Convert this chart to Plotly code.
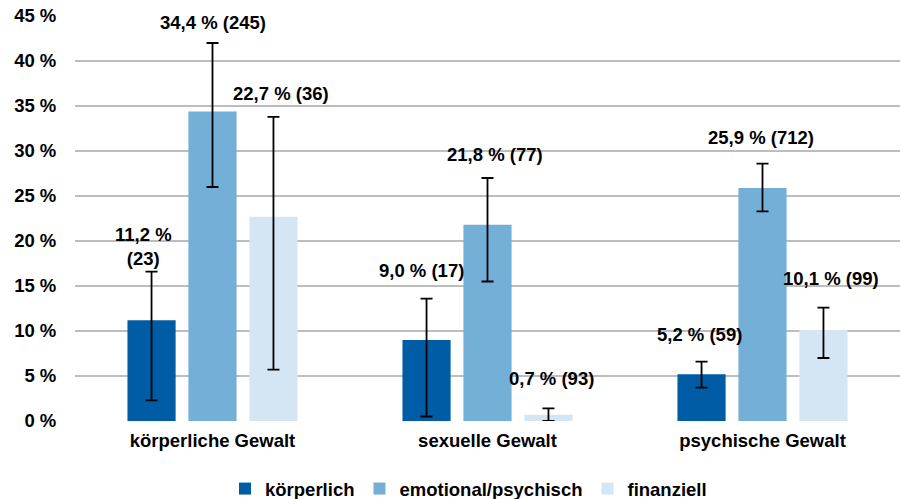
import plotly.graph_objects as go

categories = ["körperliche Gewalt", "sexuelle Gewalt", "psychische Gewalt"]
series_names = ["körperlich", "emotional/psychisch", "finanziell"]

koerperlich = [11.2, 9.0, 5.2]
koerperlich_hi = [16.6, 13.6, 6.6]
koerperlich_lo = [2.3, 0.5, 3.7]

emotional = [34.4, 21.8, 25.9]
emotional_hi = [42.0, 27.0, 28.6]
emotional_lo = [26.0, 15.5, 23.3]

finanziell = [22.7, 0.7, 10.1]
finanziell_hi = [33.8, 1.4, 12.6]
finanziell_lo = [5.7, 0.0, 7.0]

koerperlich_n = [23, 17, 59]
emotional_n = [245, 77, 712]
finanziell_n = [36, 93, 99]

y_ticks = [0, 5, 10, 15, 20, 25, 30, 35, 40, 45]
y_tick_labels = [f"{t} %" for t in y_ticks]

colors = ["#005DA5", "#73AFD6", "#D4E6F4"]
FONT = "Liberation Sans, Arial, sans-serif"
FS = 18.5

values = [koerperlich, emotional, finanziell]
his = [koerperlich_hi, emotional_hi, finanziell_hi]
los = [koerperlich_lo, emotional_lo, finanziell_lo]
ns = [koerperlich_n, emotional_n, finanziell_n]

fig = go.Figure()
for name, v, hi, lo, c in zip(series_names, values, his, los, colors):
    fig.add_trace(go.Bar(
        x=categories, y=v, name=f"<b>{name}</b>", marker_color=c,
        marker_line_width=0,
        error_y=dict(type="data", symmetric=False,
                     array=[h - a for h, a in zip(hi, v)],
                     arrayminus=[a - l for a, l in zip(v, lo)],
                     color="black", thickness=1.8, width=6),
    ))

def fmt(v):
    return f"{v:.1f}".replace(".", ",") + " %"

# label placement (series index, category index) -> (xshift px, y value, two-line)
label_pos = {
    (0, 0): (-69.5, 19.4, True),
    (1, 0): (0, 44.3, False),
    (2, 0): (68, 36.4, False),
    (0, 1): (-66.5, 16.7, False),
    (1, 1): (7, 29.6, False),
    (2, 1): (63.5, 4.7, False),
    (0, 2): (-63.5, 9.6, False),
    (1, 2): (-2, 31.5, False),
    (2, 2): (68, 15.8, False),
}

for (si, ci), (dx, yv, two) in label_pos.items():
    txt = "<b>" + fmt(values[si][ci]) + ("<br>" if two else " ") + f"({ns[si][ci]})</b>"
    fig.add_annotation(x=categories[ci], y=yv, xshift=dx, text=txt,
                       showarrow=False, xanchor="center", yanchor="middle",
                       font=dict(family=FONT, size=FS, color="black"))

fig.update_layout(
    template="none",
    width=901, height=499,
    margin=dict(l=75, r=1, t=16, b=78, autoexpand=False),
    paper_bgcolor="white", plot_bgcolor="rgba(0,0,0,0)",
    barmode="group", bargap=0.335, bargroupgap=0.21,
    font=dict(family=FONT, size=FS, color="black"),
    legend=dict(orientation="h", x=0.477, xanchor="center", y=-0.168, yanchor="middle",
                font=dict(family=FONT, size=FS, color="black"),
                itemwidth=30, traceorder="normal"),
    showlegend=True,
    xaxis=dict(showgrid=False, showline=False,
               ticks="outside", ticklen=3, tickcolor="rgba(0,0,0,0)",
               automargin=False, tickvals=categories,
               ticktext=[f"<b>{c}</b>" for c in categories]),
    yaxis=dict(range=[0, 45], tickmode="array", tickvals=y_ticks,
               ticktext=[f"<b>{t}</b>" for t in y_tick_labels],
               showgrid=True, gridcolor="#BDBDBD", gridwidth=2,
               zeroline=False, showline=False, ticks="outside", ticklen=14,
               tickcolor="rgba(0,0,0,0)", automargin=False),
)

fig.write_html("out.html", config={"displayModeBar": False},
               post_script="document.body.style.margin='0';document.body.style.overflow='hidden';")
